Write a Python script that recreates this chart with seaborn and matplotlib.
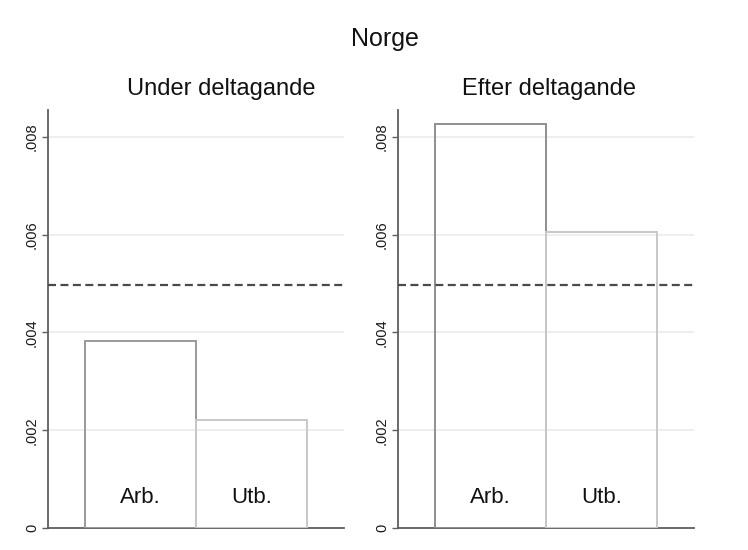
import matplotlib
matplotlib.use("Agg")
import matplotlib.pyplot as plt
import seaborn as sns
import pandas as pd

# Data
categories = ["Arb.", "Utb."]
under_values = [0.00383, 0.00221]
efter_values = [0.00827, 0.00606]
reference_level = 0.00497
panel_titles = ["Under deltagande", "Efter deltagande"]
main_title = "Norge"
yticks = [0, 0.002, 0.004, 0.006, 0.008]
ytick_labels = ["0", ".002", ".004", ".006", ".008"]

sns.set_theme(style="white")
plt.rcParams['font.family'] = ['Liberation Sans', 'DejaVu Sans']

W, H = 748, 550
fig = plt.figure(figsize=(W / 100, H / 100), dpi=100)
fig.patch.set_facecolor("white")

def px_axes(x0, x1, ytop, ybot):
    return fig.add_axes([x0 / W, 1 - ybot / H, (x1 - x0) / W, (ybot - ytop) / H])

ax_left = px_axes(48, 344, 110, 528)
ax_right = px_axes(398, 694, 110, 528)

edge_colors = {"left": ["#9a9a9a", "#c8c8c8"], "right": ["#8f8f8f", "#c8c8c8"]}

for ax, vals, key in [(ax_left, under_values, "left"), (ax_right, efter_values, "right")]:
    df = pd.DataFrame({"cat": categories, "val": vals})
    sns.barplot(data=df, x="cat", y="val", ax=ax, width=1.0, fill=False,
                color="#999999", linewidth=1.4, errorbar=None, zorder=3)
    for patch, ec in zip(ax.patches, edge_colors[key]):
        patch.set_edgecolor(ec)
        patch.set_facecolor("none")
        patch.set_linewidth(1.4)
    ax.set_xlim(-0.833, 1.833)
    ax.set_ylim(0, 0.00855)
    ax.set_yticks(yticks)
    ax.set_yticklabels(ytick_labels, rotation=90, va="center", fontsize=10.5, color="#1a1a1a")
    ax.set_xticks([])
    ax.set_xlabel("")
    ax.set_ylabel("")
    for t in yticks[1:]:
        ax.axhline(t, color="#ebebeb", lw=1.2, zorder=1)
    ax.axhline(reference_level, color="#4a4a4a", lw=1.6, linestyle=(0, (3.6, 2.0)), zorder=4)
    for s in ["top", "right"]:
        ax.spines[s].set_visible(False)
    for s in ["left", "bottom"]:
        ax.spines[s].set_color("#5e5e5e")
        ax.spines[s].set_linewidth(1.3)
    ax.tick_params(axis="y", which="both", left=True, length=4.5, width=1.0, color="#5e5e5e", pad=2)
    ax.grid(False)
    for i, c in enumerate(categories):
        ax.text(i, 0.00062, c, ha="center", va="center", fontsize=16, color="#111111", zorder=5)

fig.text(221 / W, 1 - 89 / H, panel_titles[0], ha="center", va="center", fontsize=17, color="#111111")
fig.text(549 / W, 1 - 89 / H, panel_titles[1], ha="center", va="center", fontsize=17, color="#111111")
fig.text(385 / W, 1 - 39 / H, main_title, ha="center", va="center", fontsize=18, color="#111111")

fig.savefig("out.png", dpi=100, facecolor="white")
